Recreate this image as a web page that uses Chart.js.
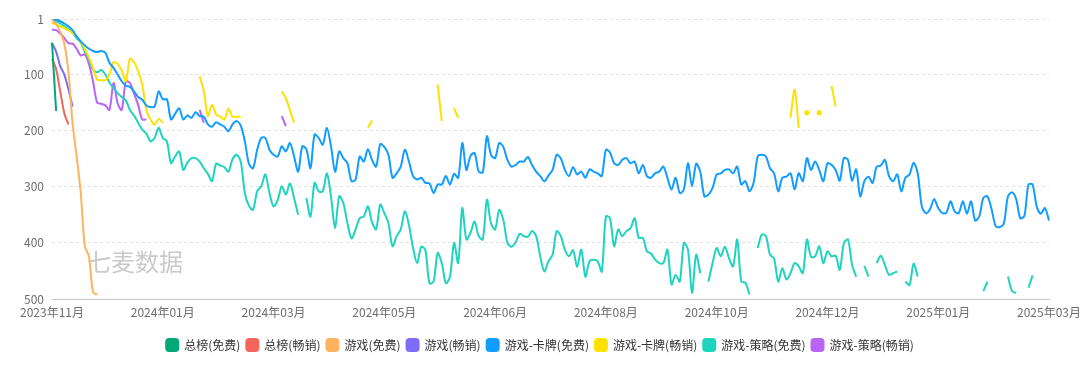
<!DOCTYPE html>
<html lang="zh">
<head>
<meta charset="utf-8">
<title>排名趋势</title>
<script src="https://cdn.jsdelivr.net/npm/chart.js@4.4.1/dist/chart.umd.min.js"></script>
<style>
  html, body { margin: 0; padding: 0; background: #fff; }
  #wrap { width: 1080px; height: 376px; }
</style>
</head>
<body>
<div id="wrap"><canvas id="rankChart" width="1080" height="376"></canvas></div>
<script>

// DATA (one point every 2 days, ranks)

const startDate = '2023-11-24'
const stepDays = 2
const pointCount = 244

const xTickEvery = 27
const xTickLabels = ['2023年11月', '2024年01月', '2024年03月', '2024年05月', '2024年06月',
  '2024年08月', '2024年10月', '2024年12月', '2025年01月', '2025年03月']
const yTicks = [1, 100, 200, 300, 400, 500]

const seriesNames = ['总榜(免费)', '总榜(畅销)', '游戏(免费)', '游戏(畅销)',
  '游戏-卡牌(免费)', '游戏-卡牌(畅销)', '游戏-策略(免费)', '游戏-策略(畅销)']
const seriesColors = ['#00a878', '#f5655b', '#ffb35f', '#7c6cf7',
  '#119dff', '#ffe100', '#1fd4bf', '#b964f5']

// each series = list of [startIndex, values]; missing days stay null
const totalFree = [[0, [43, 165]]]
const totalPaid = [[0, [72, 90, 130, 169, 189]]]
const gameFree = [[0, [2, 10, 24, 45, 95, 186, 246, 310, 406, 424, 488, 492]]]
const gamePaid = [[0, [44, 59, 85, 100, 126, 157]]]

const cardFree = [[0, [
  1, 2, 5, 9, 14, 21, 32, 41, 48, 54, 58, 60, 58, 61, 79, 88, 100, 112, 120, 122,
  130, 140, 145, 155, 158, 157, 130, 144,
  144, 180, 170, 160, 180, 173, 177, 167, 174, 175, 189, 193, 185, 189, 193, 201, 189, 183, 191, 219,
  259, 267, 234, 213, 213, 234, 243,
  246, 228, 237, 222, 246, 273, 228, 233, 267, 207, 213, 225, 195, 228, 273, 237, 249, 258, 290, 287,
  246, 255, 233, 252, 264, 224, 229,
  243, 284, 276, 264, 234, 255, 281, 287, 284, 293, 294, 311, 296, 296, 281, 296, 277, 284, 222, 270,
  245, 240, 273, 274, 210, 243, 249,
  222, 229, 252, 264, 261, 255, 255, 247, 261, 273, 281, 290, 280, 270, 243, 249, 270, 281, 265, 278,
  273, 284, 269, 273, 276, 281, 234,
  239, 258, 261, 252, 249, 258, 255, 276, 261, 281, 284, 276, 273, 264, 284, 305, 284, 311, 305, 258,
  299, 259, 273, 317, 314, 302, 278,
  276, 270, 269, 276, 264, 296, 290, 308, 293, 246, 243, 246, 267, 276, 308, 284, 282, 276, 305, 276,
  290, 249, 270, 255, 270, 290, 258,
  261, 270, 289, 249, 252, 289, 269, 317, 290, 282, 293, 264, 262, 252, 281, 290, 278, 308, 284, 278,
  257, 276, 335, 347, 340, 322, 338, 347,
  346, 326, 344, 347, 326, 348, 326, 360, 353, 320, 317, 340, 370, 372, 365, 317, 310, 322, 356, 352,
  296, 296, 335, 348, 338, 360]]]

const cardPaid = [
  [0, [8, 10, 14, 17, 21, 26, 32, 42, 54, 70, 88, 109, 110, 110, 100, 78, 81, 93, 112, 72,
    78, 94, 118, 163, 180, 189, 179, 186]],
  [36, [103, 130, 174, 154, 171, 175, 180, 161, 175, 175, 175]],
  [56, [130, 142, 164, 186]],
  [77, [195, 182]],
  [94, [118, 183]],
  [98, [160, 177]],
  [180, [177, 127, 195]],
  [184, [168]],
  [187, [168]],
  [190, [120, 157]]
]

const stratFree = [
  [0, [1, 5, 9, 14, 19, 26, 35, 43, 59, 72, 91, 96, 92, 100, 114, 124, 133, 140, 146, 163,
    173, 186, 198, 205, 219, 213, 195, 213,
    219, 258, 246, 237, 270, 257, 249, 249, 255, 267, 277, 290, 259, 262, 265, 273, 251, 243, 255, 311,
    334, 341, 308, 299, 278, 311, 335,
    324, 299, 314, 294, 320, 350]],
  [62, [320, 353, 293, 308, 308, 276, 317, 374, 317, 329, 365, 392, 376,
    356, 353, 335, 363, 376, 332, 347,
    365, 406, 388, 376, 344, 368, 409, 436, 407, 413, 472, 469, 418, 436, 472, 460, 400, 436, 338, 394,
    382, 362, 388, 394, 323, 365, 376,
    341, 359, 400, 407, 399, 384, 388, 389, 379, 388, 424, 451, 433, 421, 379, 388, 412, 424, 413, 443,
    412, 460, 433, 430, 433, 451, 353,
    356, 406, 376, 388, 379, 374, 356, 391, 391, 415, 419, 430, 436, 436, 412, 474, 457, 469, 400, 412,
    489, 421, 454]],
  [160, [469, 436, 409, 424, 407, 427, 442, 394, 469, 471, 492]],
  [172, [409, 385, 388, 421, 428, 469, 445, 465, 454, 436, 442, 454, 394, 425, 424, 406, 436, 415,
    424, 423, 448, 400, 394, 439, 460]],
  [198, [441, 460]],
  [201, [436, 423, 439, 457, 454, 451]],
  [208, [469, 475, 437, 460]],
  [227, [486, 469]],
  [233, [460, 486, 489]],
  [238, [480, 458]]
]

const stratPaid = [
  [0, [20, 21, 27, 35, 44, 45, 54, 66, 64, 81, 112, 150, 152, 155, 163, 115, 151, 163, 112, 115,
    134, 154, 180, 180]],
  [36, [163, 186]],
  [56, [174, 192]]
]

const allSeries = [totalFree, totalPaid, gameFree, gamePaid, cardFree, cardPaid, stratFree, stratPaid]


// helpers

const fromRuns = (runs) => {
  const out = new Array(pointCount).fill(null)
  runs.forEach(([start, vals]) => {
    vals.forEach((v, k) => { out[start + k] = v })
  })
  return out
}

const buildDates = () => {
  const labels = []
  const d = new Date(startDate + 'T00:00:00')
  for (let i = 0; i < pointCount; i++) {
    labels.push(`${d.getFullYear()}-${String(d.getMonth() + 1).padStart(2, '0')}-${String(d.getDate()).padStart(2, '0')}`)
    d.setDate(d.getDate() + stepDays)
  }
  return labels
}

// lonely points (no neighbour) get a small dot so they stay visible
const dotIfAlone = (ctx) => {
  const d = ctx.dataset.data
  const i = ctx.dataIndex
  if (d[i] == null) return 0
  return (d[i - 1] == null && d[i + 1] == null) ? 1.6 : 0
}

const watermark = {
  id: 'watermark',
  beforeDatasetsDraw(chart) {
    const { ctx, chartArea } = chart
    ctx.save()
    ctx.font = "24px 'Noto Sans CJK SC', sans-serif"
    ctx.fillStyle = '#cacaca'
    ctx.textBaseline = 'middle'
    ctx.fillText('七麦数据', chartArea.left + 35, chartArea.bottom - 37)
    ctx.restore()
  }
}


const renderChart = () => {
  Chart.defaults.font.family = "'Noto Sans CJK SC', 'Noto Sans', sans-serif"
  Chart.defaults.font.size = 12

  const datasets = allSeries.map((runs, i) => ({
    label: seriesNames[i],
    data: fromRuns(runs),
    borderColor: seriesColors[i],
    backgroundColor: seriesColors[i],
    borderWidth: 2,
    pointRadius: dotIfAlone,
    pointHoverRadius: 0,
    tension: 0.3,
    spanGaps: false,
    fill: false
  }))

  const ctx = document.getElementById('rankChart').getContext('2d')
  new Chart(ctx, {
    type: 'line',
    data: { labels: buildDates(), datasets },
    plugins: [watermark],
    options: {
      responsive: false,
      animation: false,
      devicePixelRatio: 1,
      // right gap comes from the x scale padding, so the legend stays centred on the canvas
      layout: { padding: { top: 19, right: 0, bottom: 15, left: 0 } },
      scales: {
        x: {
          grid: { display: false, drawTicks: false },
          border: { display: true, color: '#c2c6cc', width: 1 },
          afterFit: (scale) => {
            scale.height = 34
            scale.paddingLeft = 0
            scale.paddingRight = 31
          },
          ticks: {
            autoSkip: false,
            maxRotation: 0,
            minRotation: 0,
            padding: 6,
            color: '#6e6e6e',
            callback: (val, i) => (i % xTickEvery === 0 ? xTickLabels[i / xTickEvery] : '')
          }
        },
        y: {
          reverse: true,
          min: 1,
          max: 500,
          afterBuildTicks: (scale) => { scale.ticks = yTicks.map(v => ({ value: v })) },
          afterFit: (scale) => { scale.width = 52 },
          grid: {
            drawTicks: false,
            color: (c) => (c.tick && c.tick.value === 500 ? 'rgba(0,0,0,0)' : '#e0e0e0')
          },
          border: { display: false, dash: [3, 3] },
          ticks: { padding: 8, color: '#6e6e6e' }
        }
      },
      plugins: {
        tooltip: { enabled: false },
        legend: {
          position: 'bottom',
          labels: {
            boxWidth: 12,
            boxHeight: 12,
            useBorderRadius: true,
            borderRadius: 3,
            padding: 6,
            color: '#333'
          }
        }
      }
    }
  })
}

renderChart()
</script>
</body>
</html>
